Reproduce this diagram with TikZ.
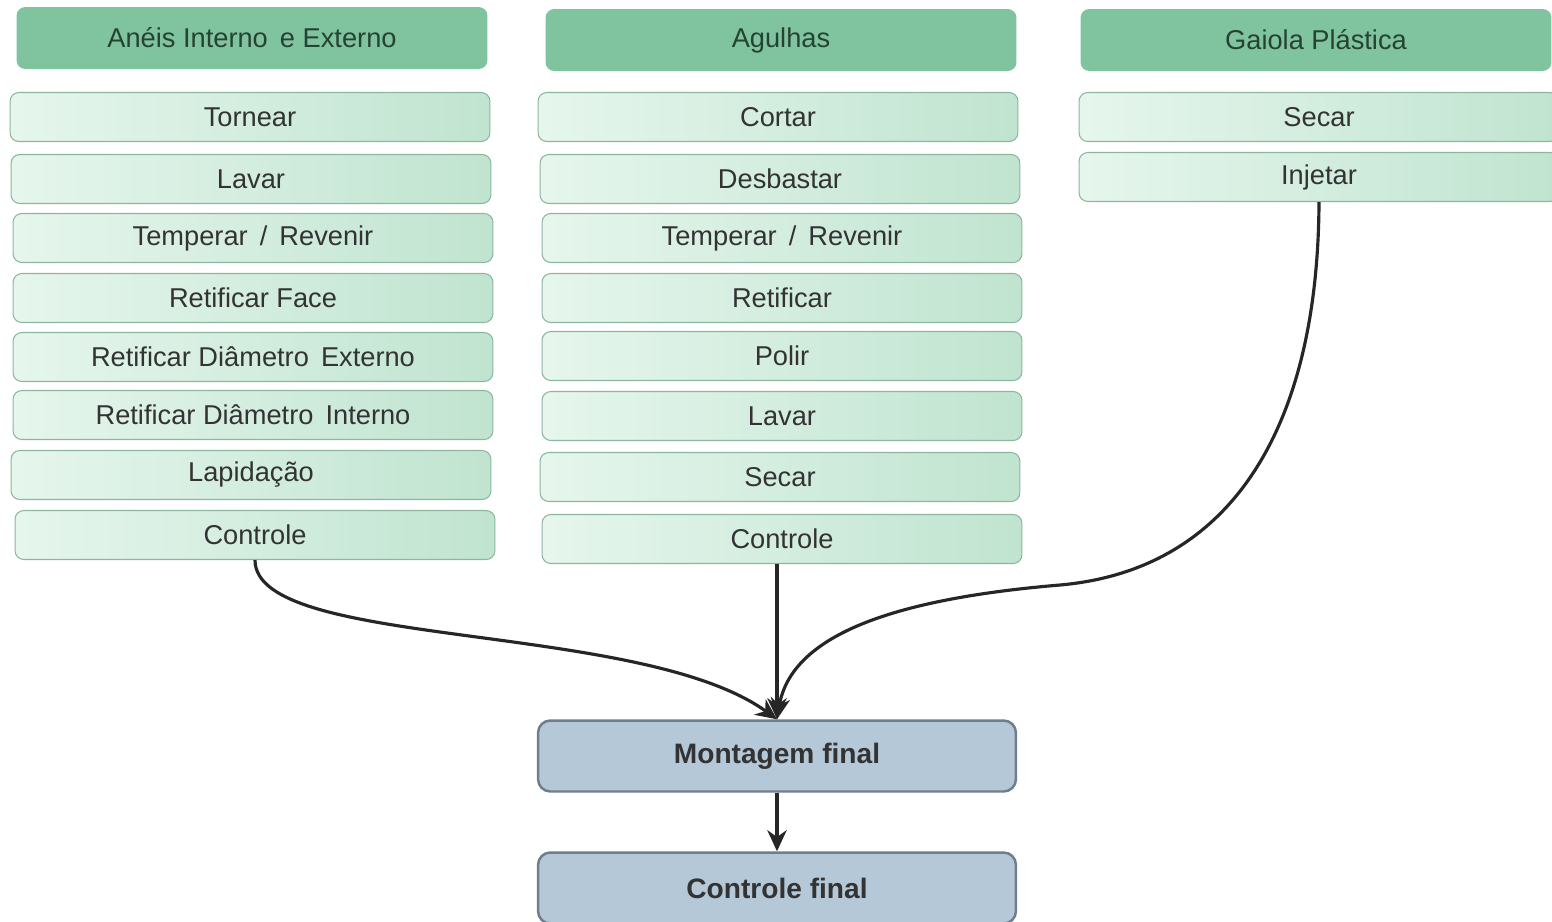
\documentclass[tikz,border=0pt]{standalone}
\usepackage{fontspec}
\setmainfont{Liberation Sans}
\usetikzlibrary{arrows.meta}
\definecolor{headgreen}{RGB}{127,196,158}
\definecolor{headtext}{RGB}{38,66,52}
\definecolor{steplight}{RGB}{230,246,237}
\definecolor{stepdark}{RGB}{192,228,208}
\definecolor{stepline}{RGB}{140,182,160}
\definecolor{finalfill}{RGB}{180,200,216}
\definecolor{finalline}{RGB}{112,126,140}
\definecolor{linkgray}{RGB}{38,38,38}

\tikzset{
  headbox/.style={rounded corners=5pt, fill=headgreen, draw=none,
    minimum width=9.42cm, minimum height=1.24cm, text=headtext,
    font=\fontsize{15.5}{18}\selectfont},
  stepbox/.style={rounded corners=5pt, left color=steplight, right color=stepdark,
    draw=stepline, line width=0.6pt, minimum width=9.6cm, minimum height=0.98cm,
    text=black!80, font=\fontsize{15.5}{18}\selectfont},
  finalbox/.style={rounded corners=7pt, fill=finalfill, draw=finalline, line width=1.4pt,
    minimum width=9.56cm, minimum height=1.42cm, text=black!80,
    font=\fontsize{16}{19}\selectfont\bfseries},
  link/.style={draw=linkgray, line width=1.8pt, -{Stealth[length=12pt,width=11pt]}}
}

\begin{document}
\begin{tikzpicture}[x=0.02cm,y=-0.02cm]
    \useasboundingbox (0,0) rectangle (1552,921);
    \clip (0,0) rectangle (1552,921);

    % column headers
    \node[headbox] (ha) at (252,38) {Anéis Interno\, e Externo};
    \node[headbox] (hb) at (781,40) {Agulhas};
    \node[headbox] (hc) at (1316,40) {Gaiola Plástica};

    % rings
    \foreach \i/\x/\y/\lab in {1/250/117/Tornear, 2/251/179/Lavar,
        3/253/238/{Temperar\, /\, Revenir}, 4/253/298/Retificar Face,
        5/253/357/{Retificar Diâmetro\, Externo}, 6/253/415/{Retificar Diâmetro\, Interno},
        7/251/475/Lapidação, 8/255/535/Controle} {
        \node[stepbox] (a\i) at (\x,\y) {\lab};
    }

    % needles
    \foreach \i/\x/\y/\lab in {1/778/117/Cortar, 2/780/179/Desbastar,
        3/782/238/{Temperar\, /\, Revenir}, 4/782/298/Retificar,
        5/782/356/Polir, 6/782/416/Lavar, 7/780/477/Secar, 8/782/539/Controle} {
        \node[stepbox] (b\i) at (\x,\y) {\lab};
    }

    % cage
    \node[stepbox] (c1) at (1319,117) {Secar};
    \node[stepbox] (c2) at (1319,177) {Injetar};

    % assembly
    \node[finalbox] (montagem) at (777,756) {Montagem final};
    \node[finalbox] (ctrlfinal) at (777,888) {Controle final};

    % links
    \coordinate (bend) at (1060,585);
    \draw[link] (a8.south) .. controls (255,650) and (640,620) .. (montagem.north);
    \draw[link] (b8.south -| montagem.north) -- (montagem.north);
    \draw[link] (c2.south) .. controls (1318,430) and (1230,570) .. (bend)
        .. controls (880,600) and (790,640) .. (montagem.north);
    \draw[link] (montagem) -- (ctrlfinal);
\end{tikzpicture}
\end{document}
